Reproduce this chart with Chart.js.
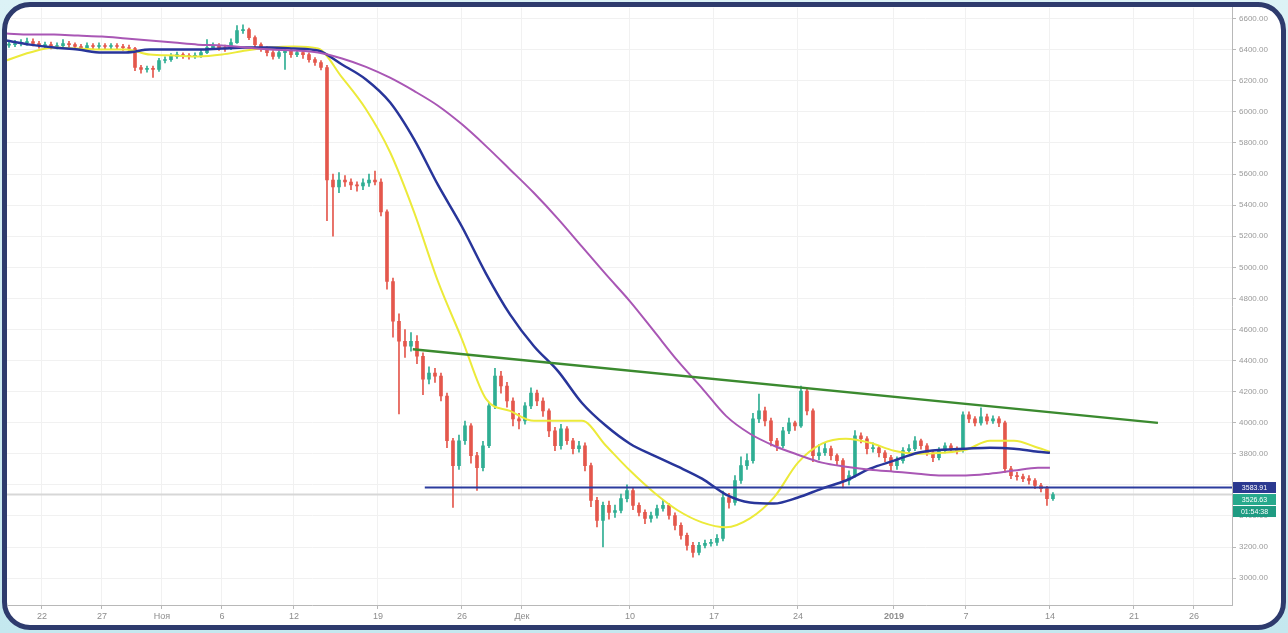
<!DOCTYPE html>
<html>
<head>
<meta charset="utf-8">
<title>BTC 12h</title>
<script src="https://cdn.jsdelivr.net/npm/chart.js@4.4.1/dist/chart.umd.min.js"></script>
<style>
  html, body { margin: 0; padding: 0; }
  body {
    width: 1288px; height: 633px; overflow: hidden; position: relative;
    background: linear-gradient(180deg, #dcf2f6 0%, #c4e8ef 100%);
    font-family: "Liberation Sans", Arial, sans-serif;
  }
  #frame {
    position: absolute; left: 2px; top: 2px; width: 1284px; height: 628px;
    box-sizing: border-box; border: 5px solid #2e3b6d; border-radius: 28px;
    background: #fff; overflow: hidden;
  }
  #wrap { position: absolute; left: -7px; top: -7px; width: 1288px; height: 633px; }
</style>
</head>
<body>
<div id="frame">
  <div id="wrap"><canvas id="priceChart"></canvas></div>
</div>
<script>
// --- Axis ticks (x = days since 22 Oct 2018) ---
const tickDays = [0, 5, 10, 15, 21, 28, 35, 40, 49, 56, 63, 71, 77, 84, 91, 96];
const tickLabels = ['22', '27', 'Ноя', '6', '12', '19', '26', 'Дек', '10', '17', '24', '2019', '7', '14', '21', '26'];
const priceTicks = [3000, 3200, 3400, 3600, 3800, 4000, 4200, 4400, 4600, 4800, 5000, 5200, 5400, 5600, 5800, 6000, 6200, 6400, 6600];

// --- 12h candles, first one opens on day -3 ---
const firstCandleDay = -3;
const candleStep = 0.5;
const firstOpen = 6430;
const closes = [
  6433, 6440, 6446, 6453, 6440, 6427, 6433, 6421, 6427, 6440,
  6433, 6421, 6414, 6427, 6421, 6427, 6421, 6427, 6421, 6414,
  6408, 6286, 6273, 6280, 6273, 6331, 6337, 6357, 6369, 6363,
  6357, 6363, 6382, 6414, 6427, 6414, 6408, 6446, 6523, 6530,
  6478, 6433, 6408, 6382, 6357, 6382, 6395, 6369, 6382, 6369,
  6337, 6318, 6286, 5562, 5517, 5562, 5549, 5530, 5524, 5543,
  5562, 5549, 5357, 4909, 4653, 4524, 4492, 4524, 4428, 4281,
  4319, 4300, 4172, 3884, 3724, 3884, 3980, 3788, 3711, 3852,
  4108, 4300, 4236, 4140, 4025, 4012, 4108, 4191, 4140, 4076,
  3948, 3852, 3961, 3884, 3833, 3852, 3724, 3500, 3371, 3468,
  3423, 3435, 3512, 3564, 3468, 3423, 3384, 3403, 3448, 3468,
  3403, 3339, 3275, 3211, 3166, 3211, 3224, 3230, 3256, 3519,
  3487, 3628, 3724, 3756, 4025, 4076, 4012, 3884, 3852, 3948,
  3999, 3980, 4204, 4076, 3788, 3807, 3833, 3788, 3756, 3628,
  3660, 3916, 3897, 3833, 3839, 3807, 3775, 3724, 3756, 3820,
  3833, 3884, 3852, 3807, 3775, 3820, 3852, 3833, 3820, 4050,
  4025, 3999, 4038, 4012, 4025, 3999, 3704, 3660, 3653, 3640,
  3628, 3596, 3576, 3512, 3538
];
const highs = [
  6455, 6460, 6465, 6475, 6470, 6455, 6450, 6450, 6445, 6465,
  6455, 6445, 6435, 6445, 6440, 6445, 6440, 6440, 6440, 6435,
  6430, 6415, 6300, 6295, 6295, 6345, 6355, 6375, 6385, 6380,
  6375, 6380, 6400, 6465, 6445, 6440, 6430, 6470, 6555, 6560,
  6540, 6490, 6445, 6420, 6395, 6400, 6410, 6405, 6400, 6395,
  6380, 6350, 6330, 6300, 5600, 5610, 5590, 5570, 5550, 5570,
  5600, 5620, 5570, 5370, 4930, 4700, 4600, 4580, 4560, 4450,
  4360, 4350, 4320, 4190, 3900, 3920, 4010, 3995, 3810, 3880,
  4130, 4350, 4330, 4260, 4160, 4060, 4130, 4225, 4210, 4160,
  4090, 3970, 3990, 3975, 3900, 3880, 3870, 3740, 3520, 3490,
  3495, 3470, 3540, 3600, 3580, 3485, 3440, 3425, 3470, 3500,
  3480, 3420, 3355, 3290, 3230, 3230, 3245, 3250, 3280, 3560,
  3545, 3660, 3780, 3800, 4060, 4185, 4100, 4030, 3900, 3970,
  4030, 4010, 4236, 4220, 4090, 3860, 3870, 3850, 3800, 3770,
  3690, 3950, 3935, 3910, 3870, 3850, 3820, 3790, 3780, 3840,
  3860, 3910, 3895, 3865, 3820, 3840, 3870, 3865, 3845, 4070,
  4070, 4040, 4095, 4055, 4045, 4040, 4010, 3720, 3680, 3670,
  3660, 3640, 3610, 3590, 3550
];
const lows = [
  6415, 6420, 6425, 6430, 6425, 6410, 6410, 6405, 6405, 6415,
  6415, 6400, 6395, 6400, 6405, 6405, 6400, 6405, 6400, 6395,
  6390, 6265, 6250, 6255, 6222, 6260, 6315, 6325, 6345, 6345,
  6340, 6345, 6350, 6375, 6400, 6395, 6390, 6400, 6440, 6505,
  6465, 6420, 6390, 6360, 6340, 6345, 6273, 6350, 6355, 6345,
  6320, 6300, 6270, 5300, 5200, 5480, 5520, 5500, 5490, 5500,
  5520, 5530, 5330, 4860, 4550, 4057, 4420, 4460, 4380, 4180,
  4250, 4260, 4140, 3840, 3455, 3700, 3860, 3740, 3564, 3690,
  3840, 4090, 4190, 4100, 3980, 3960, 3990, 4090, 4110, 4040,
  3910, 3820, 3830, 3860, 3800, 3810, 3690, 3460, 3330, 3200,
  3380, 3390, 3420, 3490, 3440, 3400, 3350, 3360, 3385, 3430,
  3380, 3310, 3250, 3180, 3134, 3150, 3195, 3205, 3210, 3240,
  3450, 3470, 3610, 3700, 3740, 4000, 3980, 3850, 3820, 3840,
  3930, 3950, 3970, 4050, 3750, 3760, 3790, 3760, 3730, 3580,
  3600, 3650, 3870, 3800, 3810, 3780, 3750, 3690, 3700, 3740,
  3805, 3820, 3830, 3790, 3750, 3760, 3805, 3815, 3800, 3810,
  4000, 3980, 3985, 3990, 3995, 3975, 3680, 3640, 3630, 3620,
  3605, 3575, 3555, 3467, 3500
];

// --- Moving averages, read every 2 days ---
const maDays = [-3, -1, 1, 3, 5, 7, 9, 11, 13, 15, 17, 19, 21, 23, 25, 27, 29, 31, 33, 35, 37, 39, 41,
  43, 45, 47, 49, 51, 53, 55, 57, 59, 61, 63, 65, 67, 69, 71, 73, 75, 77, 79, 81, 83, 84];
const maFast = [6331, 6382, 6414, 6408, 6401, 6401, 6369, 6363, 6357, 6369, 6395, 6414, 6421, 6408, 6222,
  6017, 5742, 5357, 4909, 4537, 4153, 4076, 4012, 4012, 4012, 3852, 3692, 3551, 3435, 3359, 3327,
  3384, 3519, 3743, 3865, 3897, 3871, 3820, 3801, 3807, 3826, 3884, 3884, 3839, 3813];
const maMid = [6459, 6433, 6414, 6401, 6382, 6382, 6401, 6401, 6401, 6408, 6414, 6414, 6408, 6395, 6305,
  6209, 6062, 5825, 5530, 5261, 4960, 4697, 4492, 4332, 4127, 3980, 3865, 3788, 3717, 3640, 3538,
  3487, 3480, 3519, 3576, 3628, 3704, 3756, 3807, 3826, 3833, 3839, 3833, 3813, 3807];
const maSlow = [6504, 6498, 6498, 6491, 6485, 6472, 6459, 6446, 6433, 6427, 6414, 6401, 6395, 6382, 6344,
  6290, 6220, 6135, 6040, 5920, 5780, 5630, 5478, 5312, 5133, 4954, 4781, 4589, 4396, 4223, 4044,
  3929, 3852, 3794, 3743, 3717, 3698, 3685, 3672, 3660, 3660, 3672, 3692, 3711, 3711];

// --- Drawn levels ---
const trendDays = [30.9, 93.0];
const trendPrices = [4473, 3999];
const levelFromDay = 31.9;
const levelPrice = 3583;
const lastPrice = 3538;
const tagTexts = ['3583.91', '3526.63', '01:54:38'];

const xMin = -3;
const xMax = 99.17;

// --- Build candle pieces ---
const candleOpen = closes.map((c, i) => i === 0 ? firstOpen : closes[i - 1]);
const candleDay = closes.map((c, i) => firstCandleDay + i * candleStep + candleStep / 2);
const candleColor = closes.map((c, i) => c >= candleOpen[i] ? '#2fae93' : '#e4574c');
const wickData = closes.map((c, i) => ({ x: candleDay[i], y: [lows[i], highs[i]] }));
const bodyData = closes.map((c, i) => ({ x: candleDay[i], y: [Math.min(c, candleOpen[i]), Math.max(c, candleOpen[i])] }));

function maLine(values, color, width) {
  return {
    type: 'line',
    data: maDays.map((d, i) => ({ x: d, y: values[i] })),
    borderColor: color,
    borderWidth: width,
    pointRadius: 0,
    cubicInterpolationMode: 'monotone',
    order: 2
  };
}

// --- Price tags on the right axis ---
const priceTags = {
  id: 'priceTags',
  afterDraw(chart) {
    const { ctx, chartArea, scales } = chart;
    const yTop = scales.y.getPixelForValue(levelPrice);
    const colors = ['#2b3990', '#27a98c', '#1f9b82'];
    ctx.save();
    ctx.font = '7px "Liberation Sans", Arial, sans-serif';
    ctx.textBaseline = 'middle';
    ctx.textAlign = 'center';
    tagTexts.forEach((t, i) => {
      const cy = yTop + i * 12;
      ctx.fillStyle = colors[i];
      ctx.fillRect(chartArea.right + 1, cy - 5.5, 43, 11);
      ctx.fillStyle = '#ffffff';
      ctx.fillText(t, chartArea.right + 22.5, cy + 0.5);
    });
    ctx.restore();
  }
};

const ctx = document.getElementById('priceChart').getContext('2d');

new Chart(ctx, {
  type: 'bar',
  data: {
    datasets: [
      {
        type: 'line',
        data: [{ x: xMin, y: lastPrice }, { x: xMax, y: lastPrice }],
        borderColor: '#d7d7d7',
        borderWidth: 2,
        pointRadius: 0,
        order: 9
      },
      {
        type: 'bar',
        data: wickData,
        backgroundColor: candleColor,
        barThickness: 1,
        grouped: false,
        order: 6
      },
      {
        type: 'bar',
        data: bodyData,
        backgroundColor: candleColor,
        barThickness: 3,
        minBarLength: 1,
        grouped: false,
        order: 5
      },
      maLine(maSlow, '#a957b5', 2),
      maLine(maMid, '#28359a', 2.5),
      maLine(maFast, '#ecea3a', 2),
      {
        type: 'line',
        data: [{ x: trendDays[0], y: trendPrices[0] }, { x: trendDays[1], y: trendPrices[1] }],
        borderColor: '#3b8a2f',
        borderWidth: 2.5,
        pointRadius: 0,
        order: 1
      },
      {
        type: 'line',
        data: [{ x: levelFromDay, y: levelPrice }, { x: xMax, y: levelPrice }],
        borderColor: '#2c3c9e',
        borderWidth: 2,
        pointRadius: 0,
        order: 1
      }
    ]
  },
  options: {
    responsive: true,
    maintainAspectRatio: false,
    animation: false,
    events: [],
    layout: { padding: { left: 6, top: 5, right: 0, bottom: 0 } },
    plugins: { legend: { display: false }, tooltip: { enabled: false } },
    scales: {
      x: {
        type: 'linear',
        min: xMin,
        max: xMax,
        offset: false,
        afterFit: (scale) => { scale.height = 28; },
        afterBuildTicks: (scale) => { scale.ticks = tickDays.map(v => ({ value: v })); },
        grid: { color: '#f1f1f1', tickColor: '#b8b8b8', tickLength: 4, offset: false },
        border: { color: '#b8b8b8' },
        ticks: {
          autoSkip: false,
          maxRotation: 0,
          padding: 2,
          color: '#8c8c8c',
          font: (c) => ({ size: 9, family: '"Liberation Sans", Arial, sans-serif',
            weight: c.tick && c.tick.value === 71 ? 'bold' : 'normal' }),
          callback: (v) => tickLabels[tickDays.indexOf(v)]
        }
      },
      y: {
        position: 'right',
        min: 2827,
        max: 6670,
        afterFit: (scale) => { scale.width = 56; },
        afterBuildTicks: (scale) => { scale.ticks = priceTicks.map(v => ({ value: v })); },
        grid: { color: '#f1f1f1', tickColor: '#b8b8b8', tickLength: 4 },
        border: { color: '#b8b8b8' },
        ticks: {
          padding: 3,
          color: '#9a9a9a',
          font: { size: 8, family: '"Liberation Sans", Arial, sans-serif' },
          callback: (v) => v.toFixed(2)
        }
      }
    }
  },
  plugins: [priceTags]
});
</script>
</body>
</html>
